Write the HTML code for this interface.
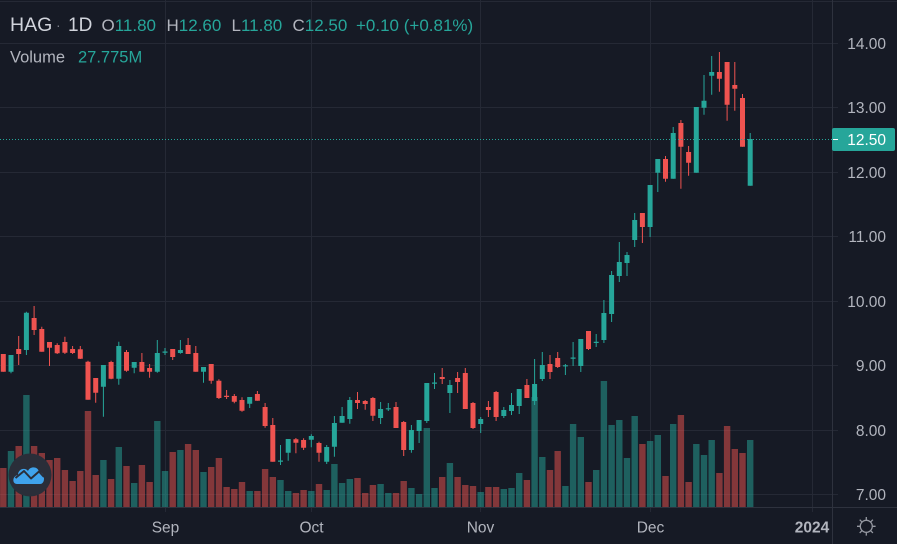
<!DOCTYPE html>
<html><head><meta charset="utf-8"><style>
html,body{margin:0;padding:0;background:#161a25;}
svg{display:block;}
text{font-family:"Liberation Sans",sans-serif;}
</style></head><body>
<svg width="897" height="544" viewBox="0 0 897 544" xmlns="http://www.w3.org/2000/svg">
<rect width="897" height="544" fill="#161a25"/>
<!-- grid -->
<g stroke="#252935" stroke-width="1">
<path d="M0 1.5H897"/>
<path d="M0 43.5H838M0 107.5H838M0 172.5H838M0 236.5H838M0 301.5H838M0 365.5H838M0 430.5H838M0 494.5H838"/>
<path d="M165.5 0V512M311.5 0V512M480.5 0V512M650.5 0V512M812.5 0V512"/>
</g>
<g stroke="#2e323e" stroke-width="1">
<path d="M0 507.5H897"/>
<path d="M832.5 0V544"/>
</g>
<!-- volume -->
<path fill="rgba(38,166,154,0.5)" d="M7.8 451h6.4V507h-6.4ZM23.2 395h6.4V507h-6.4ZM100.2 460h6.4V507h-6.4ZM115.6 447h6.4V507h-6.4ZM131 483h6.4V507h-6.4ZM154.1 421h6.4V507h-6.4ZM161.8 471h6.4V507h-6.4ZM177.2 450h6.4V507h-6.4ZM200.3 472h6.4V507h-6.4ZM246.5 491h6.4V507h-6.4ZM277.3 480h6.4V507h-6.4ZM285 491h6.4V507h-6.4ZM308.1 491h6.4V507h-6.4ZM323.5 490h6.4V507h-6.4ZM331.2 464h6.4V507h-6.4ZM338.9 483h6.4V507h-6.4ZM346.6 479h6.4V507h-6.4ZM377.4 484h6.4V507h-6.4ZM385.1 493h6.4V507h-6.4ZM408.2 488h6.4V507h-6.4ZM415.9 494h6.4V507h-6.4ZM423.6 428h6.4V507h-6.4ZM431.3 488h6.4V507h-6.4ZM446.7 463h6.4V507h-6.4ZM477.5 492h6.4V507h-6.4ZM500.6 489h6.4V507h-6.4ZM508.3 488h6.4V507h-6.4ZM516 473h6.4V507h-6.4ZM531.4 397h6.4V507h-6.4ZM539.1 457h6.4V507h-6.4ZM562.2 486h6.4V507h-6.4ZM569.9 424h6.4V507h-6.4ZM577.6 437h6.4V507h-6.4ZM593 470h6.4V507h-6.4ZM600.7 381h6.4V507h-6.4ZM608.4 425h6.4V507h-6.4ZM616.1 420h6.4V507h-6.4ZM623.8 458h6.4V507h-6.4ZM631.5 416h6.4V507h-6.4ZM646.9 441h6.4V507h-6.4ZM654.6 435h6.4V507h-6.4ZM670 424h6.4V507h-6.4ZM693.1 444h6.4V507h-6.4ZM700.8 455h6.4V507h-6.4ZM708.5 440h6.4V507h-6.4ZM747 440h6.4V507h-6.4Z"/>
<path fill="rgba(239,83,80,0.5)" d="M0.1 468h6.4V507h-6.4ZM15.5 446h6.4V507h-6.4ZM30.9 446h6.4V507h-6.4ZM38.6 453h6.4V507h-6.4ZM46.3 460h6.4V507h-6.4ZM54 458h6.4V507h-6.4ZM61.7 470h6.4V507h-6.4ZM69.4 481h6.4V507h-6.4ZM77.1 471h6.4V507h-6.4ZM84.8 411h6.4V507h-6.4ZM92.5 475h6.4V507h-6.4ZM107.9 479h6.4V507h-6.4ZM123.3 466h6.4V507h-6.4ZM138.7 465h6.4V507h-6.4ZM146.4 482h6.4V507h-6.4ZM169.5 452h6.4V507h-6.4ZM184.9 444h6.4V507h-6.4ZM192.6 450h6.4V507h-6.4ZM208 467h6.4V507h-6.4ZM215.7 458h6.4V507h-6.4ZM223.4 487h6.4V507h-6.4ZM231.1 489h6.4V507h-6.4ZM238.8 482h6.4V507h-6.4ZM254.2 491h6.4V507h-6.4ZM261.9 469h6.4V507h-6.4ZM269.6 477h6.4V507h-6.4ZM292.7 493h6.4V507h-6.4ZM300.4 490h6.4V507h-6.4ZM315.8 484h6.4V507h-6.4ZM354.3 478h6.4V507h-6.4ZM362 493h6.4V507h-6.4ZM369.7 485h6.4V507h-6.4ZM392.8 493h6.4V507h-6.4ZM400.5 481h6.4V507h-6.4ZM439 477h6.4V507h-6.4ZM454.4 477h6.4V507h-6.4ZM462.1 485h6.4V507h-6.4ZM469.8 486h6.4V507h-6.4ZM485.2 487h6.4V507h-6.4ZM492.9 487h6.4V507h-6.4ZM523.7 480h6.4V507h-6.4ZM546.8 470h6.4V507h-6.4ZM554.5 451h6.4V507h-6.4ZM585.3 482h6.4V507h-6.4ZM639.2 444h6.4V507h-6.4ZM662.3 476h6.4V507h-6.4ZM677.7 415h6.4V507h-6.4ZM685.4 482h6.4V507h-6.4ZM716.2 473h6.4V507h-6.4ZM723.9 426h6.4V507h-6.4ZM731.6 449h6.4V507h-6.4ZM739.3 453h6.4V507h-6.4Z"/>
<!-- green candles -->
<path stroke="#26a69a" stroke-width="1" fill="none" d="M11 355V373.3M26.4 311.7V355M103.4 365V416.7M118.8 341.7V384.7M134.2 362V373.3M157.3 340V372.7M165 348V355M180.4 340V353.7M203.5 367V382.7M249.7 397V408M280.5 445V465M288.2 439V460.7M311.3 434.3V447.3M326.7 445V464M334.4 416V456.7M342.1 407V422.7M349.8 397V423.7M380.6 402V424M388.3 403V411M411.4 425V452.7M419.1 420V443M426.8 383V423M434.5 373V389M449.9 380V413M480.7 417V433M503.8 407V418M511.5 393V415M519.2 389V414M534.6 359V405M542.3 352V381M565.4 364V375M573.1 342V366M580.8 339V372M596.2 334V347M603.9 300V343M611.6 271V322M619.3 242V282M627 252V276M634.7 213V247M650.1 185V237M657.8 159V192M673.2 127V178.7M696.3 107V172.7M704 75V114.7M711.7 56V94.7M750.2 133V185.7"/>
<path fill="#26a69a" d="M8.5 355h5V371.7h-5ZM23.9 312.7h5V350h-5ZM100.9 365h5V386.7h-5ZM116.3 346h5V378.7h-5ZM131.7 362h5V367.7h-5ZM154.8 353h5V371.7h-5ZM162.5 351.5h5V352.7h-5ZM177.9 350h5V353h-5ZM201 367h5V371.7h-5ZM247.2 397h5V403.7h-5ZM278 460.5h5V461.7h-5ZM285.7 439h5V452.7h-5ZM308.8 436h5V439.7h-5ZM324.2 447h5V461.7h-5ZM331.9 423h5V446.7h-5ZM339.6 416h5V422.7h-5ZM347.3 400h5V419h-5ZM378.1 409h5V418h-5ZM385.8 408.2h5V409.4h-5ZM408.9 430h5V450h-5ZM416.6 420h5V431h-5ZM424.3 383h5V421h-5ZM432 382.5h5V383.7h-5ZM447.4 385h5V393h-5ZM478.2 419h5V424h-5ZM501.3 410h5V416h-5ZM509 405h5V411h-5ZM516.7 389h5V406h-5ZM532.1 384h5V401h-5ZM539.8 365h5V379h-5ZM562.9 365.2h5V366.4h-5ZM570.6 357.5h5V358.7h-5ZM578.3 339h5V366h-5ZM593.7 341.8h5V343h-5ZM601.4 313h5V340h-5ZM609.1 275h5V314h-5ZM616.8 262h5V276h-5ZM624.5 255h5V263h-5ZM632.2 220h5V240h-5ZM647.6 185h5V227h-5ZM655.3 159h5V172.7h-5ZM670.7 133h5V178.7h-5ZM693.8 107h5V172.7h-5ZM701.5 100.7h5V107.7h-5ZM709.2 72h5V75.7h-5ZM747.7 139h5V185.7h-5Z"/>
<!-- red candles -->
<path stroke="#ef5350" stroke-width="1" fill="none" d="M3.3 354V371.7M18.7 336V365M34.1 306V335M41.8 326.7V351.7M49.5 342V366M57.2 343.3V354M64.9 336.7V354M72.6 346V354M80.3 346V359M88 360.7V399.7M95.7 378V402.7M111.1 360.7V379.3M126.5 350V371.7M141.9 353V371.7M149.6 364V377.7M172.7 349V360M188.1 338V354M195.8 346V371.7M211.2 364V383.7M218.9 379.3V399M226.6 390V399M234.3 394V403.3M242 397.3V411.7M257.4 391V400.7M265.1 403V427.7M272.8 418V461.7M295.9 438V453.3M303.6 438.3V450M319 441.7V461.7M357.5 392V409M365.2 400V409.7M372.9 397V421M396 402V428M403.7 421V456M442.2 368V384M457.6 372V393M465.3 368V409M473 402V429M488.4 401V417M496.1 391V421M526.9 379V398M550 355V379M557.7 352V368M588.5 331V350M642.4 213V243M665.5 156V181.7M680.9 120V188.7M688.6 146V175.7M719.4 52V91.7M727.1 62V120.7M734.8 62V110.7M742.5 94V146.7"/>
<path fill="#ef5350" d="M0.8 354h5V371.7h-5ZM16.2 349h5V354h-5ZM31.6 318h5V330h-5ZM39.3 329h5V351.7h-5ZM47 342h5V347.7h-5ZM54.7 345h5V353.3h-5ZM62.4 342h5V352.7h-5ZM70.1 349h5V353h-5ZM77.8 349.3h5V358.7h-5ZM85.5 361.7h5V399.7h-5ZM93.2 378h5V392.7h-5ZM108.6 362h5V378.7h-5ZM124 352h5V370.7h-5ZM139.4 362h5V371.7h-5ZM147.1 368h5V371.7h-5ZM170.2 349h5V357h-5ZM185.6 345h5V354h-5ZM193.3 353h5V371.7h-5ZM208.7 364h5V380.7h-5ZM216.4 380.7h5V398h-5ZM224.1 395.8h5V397h-5ZM231.8 396h5V401.7h-5ZM239.5 400h5V410.7h-5ZM254.9 394h5V400.7h-5ZM262.6 407h5V426h-5ZM270.3 425h5V461.7h-5ZM293.4 439.3h5V442.7h-5ZM301.1 440h5V447.7h-5ZM316.5 443h5V452.7h-5ZM355 400h5V403h-5ZM362.7 401h5V404h-5ZM370.4 398h5V415.7h-5ZM393.5 407h5V428h-5ZM401.2 422h5V450h-5ZM439.7 377h5V379h-5ZM455.1 378h5V382h-5ZM462.8 373h5V409h-5ZM470.5 403h5V428h-5ZM485.9 407h5V410h-5ZM493.6 392h5V417h-5ZM524.4 385h5V398h-5ZM547.5 364h5V372h-5ZM555.2 358h5V367h-5ZM586 331h5V349h-5ZM639.9 213h5V227h-5ZM663 159h5V178.7h-5ZM678.4 123h5V146.7h-5ZM686.1 152h5V162.7h-5ZM716.9 72h5V78.7h-5ZM724.6 62h5V104.7h-5ZM732.3 85h5V88.7h-5ZM740 98h5V146.7h-5Z"/>
<!-- last price dotted line -->
<path d="M0 139.5H832" stroke="#26a69a" stroke-width="1" stroke-dasharray="1 2"/>
<!-- price axis labels -->
<g fill="#b2b5be" font-size="15.5" text-anchor="end">
<text x="886" y="49">14.00</text>
<text x="886" y="113">13.00</text>
<text x="886" y="178">12.00</text>
<text x="886" y="242">11.00</text>
<text x="886" y="307">10.00</text>
<text x="886" y="371">9.00</text>
<text x="886" y="436">8.00</text>
<text x="886" y="500">7.00</text>
</g>
<rect x="832" y="128" width="63" height="23" rx="2" fill="#26a69a"/>
<path d="M833 139.5H838" stroke="#ffffff" stroke-width="1"/>
<text x="886" y="145" fill="#ffffff" font-size="15.5" text-anchor="end">12.50</text>
<!-- time axis labels -->
<g fill="#b2b5be" font-size="15.5" text-anchor="middle">
<text x="165.5" y="532.5">Sep</text>
<text x="311.5" y="532.5">Oct</text>
<text x="480.5" y="532.5">Nov</text>
<text x="650.5" y="532.5">Dec</text>
<text x="812" y="532.5" font-weight="bold">2024</text>
</g>
<!-- gear icon -->
<g stroke="#9598a1" stroke-width="1.3" fill="none">
<circle cx="866.3" cy="526.3" r="6"/>
<path d="M866.3 517V520M866.3 532.6V535.6M857 526.3H860M872.6 526.3H875.6M859.7 519.7L861.8 521.8M870.8 530.8L872.9 532.9M872.9 519.7L870.8 521.8M861.8 530.8L859.7 532.9"/>
</g>
<!-- logo -->
<circle cx="30" cy="475" r="21.5" fill="#2a2e39"/>
<path d="M17 484 C12 484 12 476 18 475 C18 469 25 467 28 471 C30 466 38 466 39 472 C45 472 46 484 40 484 Z" fill="#3fa3ec"/>
<path d="M15.5 478 L24 471 L31 478.5 L39 471.5 L44 477" stroke="#2a2e39" stroke-width="2" fill="none" stroke-linejoin="round"/>
<!-- header legend -->
<text x="10" y="31" font-size="19.5" fill="#d1d4dc">HAG</text>
<text x="56" y="30" font-size="14" fill="#787b86">·</text>
<text x="68" y="31" font-size="19" fill="#d1d4dc">1D</text>
<g font-size="17">
<text x="101.5" y="31" fill="#b2b5be">O<tspan fill="#26a69a">11.80</tspan></text>
<text x="166.5" y="31" fill="#b2b5be">H<tspan fill="#26a69a">12.60</tspan></text>
<text x="231.5" y="31" fill="#b2b5be">L<tspan fill="#26a69a">11.80</tspan></text>
<text x="292.5" y="31" fill="#b2b5be">C<tspan fill="#26a69a">12.50</tspan></text>
<text x="356" y="31" fill="#26a69a">+0.10 (+0.81%)</text>
</g>
<text x="10" y="62.5" font-size="16.5" fill="#b2b5be">Volume</text>
<text x="78" y="62.5" font-size="16.5" fill="#26a69a">27.775M</text>
</svg>
</body></html>
